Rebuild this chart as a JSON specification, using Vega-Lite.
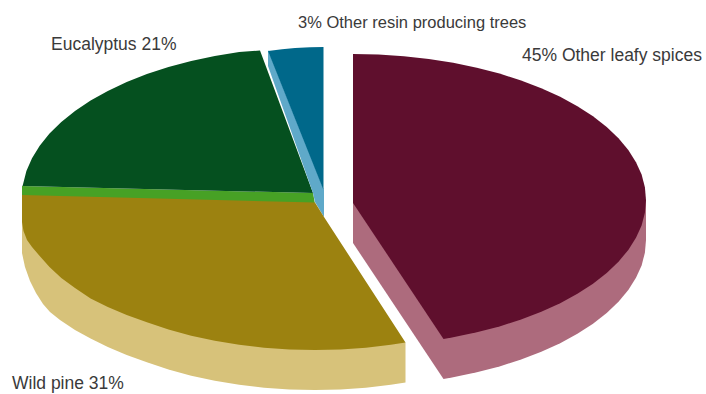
{
  "$schema": "https://vega.github.io/schema/vega-lite/v6.json",
  "width": 706,
  "height": 394,
  "autosize": {"type": "none"},
  "padding": 0,
  "background": "white",
  "view": {"stroke": null},
  "datasets": {
    "labelsSmall": [
      {"label": "3% Other resin producing trees", "x": 298, "y": 23}
    ],
    "labelsLarge": [
      {"label": "Eucalyptus 21%", "x": 51, "y": 45},
      {"label": "45% Other leafy spices", "x": 522, "y": 56},
      {"label": "Wild pine 31%", "x": 12, "y": 384}
    ],
    "outlines": [
      {"part":"Wine side","x":353,"y":203},{"part":"Wine side","x":353,"y":243},{"part":"Wine side","x":443.5,"y":379},{"part":"Wine side","x":453.2,"y":377.2},{"part":"Wine side","x":476.8,"y":372.3},{"part":"Wine side","x":499.5,"y":366.4},{"part":"Wine side","x":521.1,"y":359.6},{"part":"Wine side","x":541.3,"y":351.8},{"part":"Wine side","x":560.2,"y":343.2},{"part":"Wine side","x":577.4,"y":333.8},{"part":"Wine side","x":593,"y":323.7},{"part":"Wine side","x":606.7,"y":313},{"part":"Wine side","x":618.5,"y":301.7},{"part":"Wine side","x":628.3,"y":289.9},{"part":"Wine side","x":636,"y":277.8},{"part":"Wine side","x":641.6,"y":265.4},{"part":"Wine side","x":644.9,"y":252.7},{"part":"Wine side","x":646,"y":240},{"part":"Wine side","x":646,"y":200},
      {"part":"Wine top","x":353,"y":54},{"part":"Wine top","x":378.5,"y":54.6},{"part":"Wine top","x":403.9,"y":56.2},{"part":"Wine top","x":428.8,"y":59},{"part":"Wine top","x":453.2,"y":62.8},{"part":"Wine top","x":476.8,"y":67.7},{"part":"Wine top","x":499.5,"y":73.6},{"part":"Wine top","x":521.1,"y":80.4},{"part":"Wine top","x":541.3,"y":88.2},{"part":"Wine top","x":560.2,"y":96.8},{"part":"Wine top","x":577.4,"y":106.2},{"part":"Wine top","x":593,"y":116.3},{"part":"Wine top","x":606.7,"y":127},{"part":"Wine top","x":618.5,"y":138.3},{"part":"Wine top","x":628.3,"y":150.1},{"part":"Wine top","x":636,"y":162.2},{"part":"Wine top","x":641.6,"y":174.6},{"part":"Wine top","x":644.9,"y":187.3},{"part":"Wine top","x":646,"y":200},{"part":"Wine top","x":644.9,"y":212.7},{"part":"Wine top","x":641.6,"y":225.4},{"part":"Wine top","x":636,"y":237.8},{"part":"Wine top","x":628.3,"y":249.9},{"part":"Wine top","x":618.5,"y":261.7},{"part":"Wine top","x":606.7,"y":273},{"part":"Wine top","x":593,"y":283.7},{"part":"Wine top","x":577.4,"y":293.8},{"part":"Wine top","x":560.2,"y":303.2},{"part":"Wine top","x":541.3,"y":311.8},{"part":"Wine top","x":521.1,"y":319.6},{"part":"Wine top","x":499.5,"y":326.4},{"part":"Wine top","x":476.8,"y":332.3},{"part":"Wine top","x":453.2,"y":337.2},{"part":"Wine top","x":443.5,"y":339},{"part":"Wine top","x":353,"y":203},
      {"part":"Pine side","x":405.5,"y":342.5},{"part":"Pine side","x":405.5,"y":382.5},{"part":"Pine side","x":390.8,"y":384.8},{"part":"Pine side","x":365.9,"y":387.7},{"part":"Pine side","x":340.5,"y":389.4},{"part":"Pine side","x":315,"y":390},{"part":"Pine side","x":289.5,"y":389.4},{"part":"Pine side","x":264.1,"y":387.7},{"part":"Pine side","x":239.2,"y":384.8},{"part":"Pine side","x":214.8,"y":380.8},{"part":"Pine side","x":191.2,"y":375.7},{"part":"Pine side","x":168.5,"y":369.5},{"part":"Pine side","x":146.9,"y":362.3},{"part":"Pine side","x":126.7,"y":355},{"part":"Pine side","x":107.8,"y":347},{"part":"Pine side","x":90.6,"y":338.5},{"part":"Pine side","x":75,"y":330},{"part":"Pine side","x":60,"y":320},{"part":"Pine side","x":50,"y":312},{"part":"Pine side","x":43,"y":304},{"part":"Pine side","x":36,"y":293},{"part":"Pine side","x":30,"y":281},{"part":"Pine side","x":25,"y":267},{"part":"Pine side","x":22,"y":253},{"part":"Pine side","x":22,"y":195},
      {"part":"Eucalyptus edge","x":22,"y":186},{"part":"Eucalyptus edge","x":313,"y":193},{"part":"Eucalyptus edge","x":315,"y":204},{"part":"Eucalyptus edge","x":22,"y":197},
      {"part":"Eucalyptus top","x":22.5,"y":186},{"part":"Eucalyptus top","x":23.1,"y":183.9},{"part":"Eucalyptus top","x":26.4,"y":171},{"part":"Eucalyptus top","x":32,"y":158.2},{"part":"Eucalyptus top","x":39.7,"y":145.7},{"part":"Eucalyptus top","x":49.5,"y":133.6},{"part":"Eucalyptus top","x":61.3,"y":122},{"part":"Eucalyptus top","x":75,"y":111},{"part":"Eucalyptus top","x":90.6,"y":100.6},{"part":"Eucalyptus top","x":107.8,"y":90.9},{"part":"Eucalyptus top","x":126.7,"y":82.1},{"part":"Eucalyptus top","x":146.9,"y":74.1},{"part":"Eucalyptus top","x":168.5,"y":67.1},{"part":"Eucalyptus top","x":191.2,"y":61},{"part":"Eucalyptus top","x":214.8,"y":56},{"part":"Eucalyptus top","x":239.2,"y":52.1},{"part":"Eucalyptus top","x":260,"y":50.5},{"part":"Eucalyptus top","x":313,"y":193},
      {"part":"Resin edge","x":268,"y":50},{"part":"Resin edge","x":324,"y":190},{"part":"Resin edge","x":324,"y":217},{"part":"Resin edge","x":315,"y":202},{"part":"Resin edge","x":313,"y":193},{"part":"Resin edge","x":268,"y":66},
      {"part":"Resin top","x":268,"y":51},{"part":"Resin top","x":282,"y":49.2},{"part":"Resin top","x":295,"y":48},{"part":"Resin top","x":310,"y":47.2},{"part":"Resin top","x":323.5,"y":47},{"part":"Resin top","x":323.5,"y":190},
      {"part":"Pine top","x":22,"y":195},{"part":"Pine top","x":315,"y":202.5},{"part":"Pine top","x":324,"y":217},{"part":"Pine top","x":405.5,"y":342.5},{"part":"Pine top","x":390.8,"y":344.8},{"part":"Pine top","x":365.9,"y":347.7},{"part":"Pine top","x":340.5,"y":349.4},{"part":"Pine top","x":315,"y":350},{"part":"Pine top","x":289.5,"y":349.4},{"part":"Pine top","x":264.1,"y":347.7},{"part":"Pine top","x":239.2,"y":344.8},{"part":"Pine top","x":214.8,"y":340.8},{"part":"Pine top","x":191.2,"y":335.7},{"part":"Pine top","x":168.5,"y":329.5},{"part":"Pine top","x":146.9,"y":322.3},{"part":"Pine top","x":126.7,"y":315},{"part":"Pine top","x":107.8,"y":307},{"part":"Pine top","x":90.6,"y":298.5},{"part":"Pine top","x":75,"y":288},{"part":"Pine top","x":61.3,"y":278},{"part":"Pine top","x":49.5,"y":267},{"part":"Pine top","x":39.7,"y":256},{"part":"Pine top","x":32,"y":247},{"part":"Pine top","x":27,"y":240},{"part":"Pine top","x":23.5,"y":231},{"part":"Pine top","x":22,"y":222}
    ]
  },
  "layer": [
    {
      "data": {"name": "outlines"},
      "transform": [{"window": [{"op": "row_number", "as": "seq"}]}],
      "mark": {"type": "line", "strokeWidth": 0, "stroke": null, "clip": true},
      "encoding": {
        "x": {"field": "x", "type": "quantitative", "scale": {"domain": [0, 706]}, "axis": null},
        "y": {"field": "y", "type": "quantitative", "scale": {"domain": [394, 0]}, "axis": null},
        "order": {"field": "seq", "type": "quantitative"},
        "detail": {"field": "part"},
        "fill": {
          "field": "part",
          "type": "nominal",
          "legend": null,
          "scale": {
            "domain": ["Wine side", "Wine top", "Pine side", "Eucalyptus edge", "Eucalyptus top", "Resin edge", "Resin top", "Pine top"],
            "range": ["#ad6b7d", "#5f0f2d", "#d7c27a", "#47a125", "#05501f", "#5fa9c9", "#00688a", "#9c8210"]
          }
        }
      }
    },
    {
      "data": {"name": "labelsSmall"},
      "mark": {"type": "text", "align": "left", "baseline": "middle", "font": "Liberation Sans", "fontSize": 16.5, "color": "#3a3a3a"},
      "encoding": {
        "x": {"field": "x", "type": "quantitative", "scale": {"domain": [0, 706]}, "axis": null},
        "y": {"field": "y", "type": "quantitative", "scale": {"domain": [394, 0]}, "axis": null},
        "text": {"field": "label"}
      }
    },
    {
      "data": {"name": "labelsLarge"},
      "mark": {"type": "text", "align": "left", "baseline": "middle", "font": "Liberation Sans", "fontSize": 17.5, "color": "#3a3a3a"},
      "encoding": {
        "x": {"field": "x", "type": "quantitative", "scale": {"domain": [0, 706]}, "axis": null},
        "y": {"field": "y", "type": "quantitative", "scale": {"domain": [394, 0]}, "axis": null},
        "text": {"field": "label"}
      }
    }
  ]
}
